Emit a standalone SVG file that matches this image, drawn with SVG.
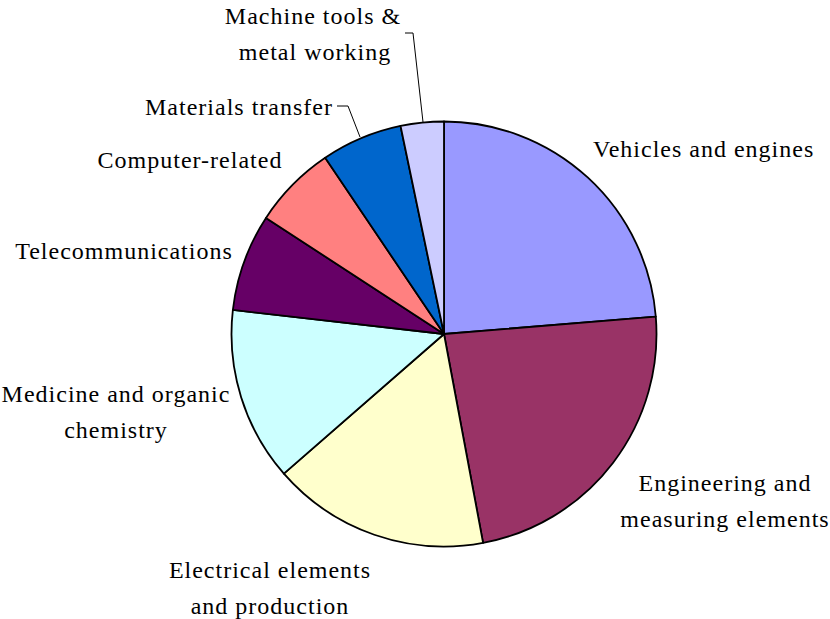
<svg xmlns="http://www.w3.org/2000/svg" width="830" height="619" viewBox="0 0 830 619">
<style>
.s{stroke:#000;stroke-width:1.8;stroke-linejoin:round}
.t{font-family:"Liberation Serif","Times New Roman",serif;font-size:24px;letter-spacing:1px;fill:#000}
.m{text-anchor:middle}
.l{fill:none;stroke:#000;stroke-width:1}
</style>
<rect width="830" height="619" fill="#fff"/>
<g id="slice-vehicles"><path class="s" fill="#9999FF" d="M444,334 L444,121.5 A212.5,212.5 0 0 1 655.79,316.59 Z"/></g>
<g id="slice-engineering"><path class="s" fill="#993366" d="M444,334 L655.79,316.59 A212.5,212.5 0 0 1 483.09,542.88 Z"/></g>
<g id="slice-electrical"><path class="s" fill="#FFFFCC" d="M444,334 L483.09,542.88 A212.5,212.5 0 0 1 283.87,473.69 Z"/></g>
<g id="slice-medicine"><path class="s" fill="#CCFFFF" d="M444,334 L283.87,473.69 A212.5,212.5 0 0 1 232.87,309.94 Z"/></g>
<g id="slice-telecom"><path class="s" fill="#660066" d="M444,334 L232.87,309.94 A212.5,212.5 0 0 1 265.98,217.95 Z"/></g>
<g id="slice-computer"><path class="s" fill="#FF8080" d="M444,334 L265.98,217.95 A212.5,212.5 0 0 1 325.17,157.83 Z"/></g>
<g id="slice-materials"><path class="s" fill="#0066CC" d="M444,334 L325.17,157.83 A212.5,212.5 0 0 1 400.54,125.99 Z"/></g>
<g id="slice-machine"><path class="s" fill="#CCCCFF" d="M444,334 L400.54,125.99 A212.5,212.5 0 0 1 444,121.5 Z"/></g>
<g id="connectors">
<polyline class="l" points="405,33 413,33 423,122"/>
<polyline class="l" points="337,106 348,106 360,137"/>
</g>
<g id="label-vehicles"><text class="t" x="593" y="157">Vehicles and engines</text></g>
<g id="label-engineering"><text class="t m" x="725" y="491">Engineering and</text><text class="t m" x="725" y="527">measuring elements</text></g>
<g id="label-electrical"><text class="t m" x="270" y="578">Electrical elements</text><text class="t m" x="270" y="614">and production</text></g>
<g id="label-medicine"><text class="t m" x="116" y="402">Medicine and organic</text><text class="t m" x="116" y="438">chemistry</text></g>
<g id="label-telecom"><text class="t m" x="124" y="259">Telecommunications</text></g>
<g id="label-computer"><text class="t m" x="190" y="168">Computer-related</text></g>
<g id="label-materials"><text class="t" x="145" y="115">Materials transfer</text></g>
<g id="label-machine"><text class="t m" x="313" y="24">Machine tools &amp;</text><text class="t m" x="315" y="60">metal working</text></g>
</svg>
